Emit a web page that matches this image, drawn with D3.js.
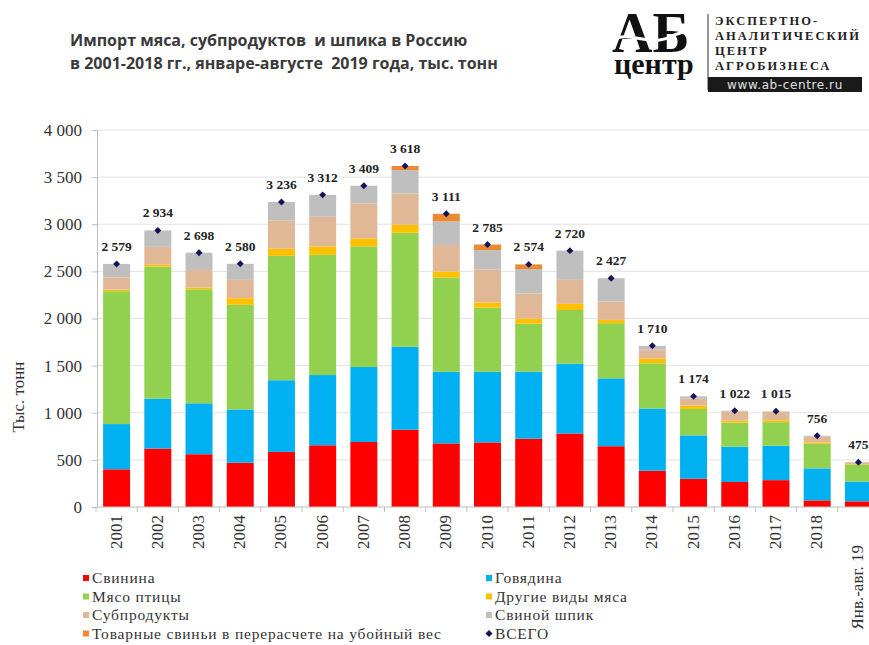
<!DOCTYPE html>
<html>
<head>
<meta charset="utf-8">
<script src="https://cdn.jsdelivr.net/npm/d3@7"></script>
<style>
  body { margin: 0; background: #fff; }
  svg { display: block; overflow: hidden; }
  text { white-space: pre; }
</style>
</head>
<body>
<div id="chart"></div>
<script>
// Импорт мяса в Россию, тыс. тонн

var width = 869;
var height = 645;

var categories = ["2001", "2002", "2003", "2004", "2005", "2006", "2007", "2008", "2009", "2010",
                  "2011", "2012", "2013", "2014", "2015", "2016", "2017", "2018", "Янв.-авг. 19"];

var pork      = [400, 620, 560, 470, 585, 655, 690, 820, 675, 685, 725, 780, 645, 385, 300, 265, 285, 70, 60];
var beef      = [480, 530, 540, 565, 760, 745, 795, 880, 760, 750, 710, 740, 720, 660, 460, 375, 365, 340, 210];
var poultry   = [1410, 1400, 1210, 1110, 1320, 1275, 1280, 1210, 1000, 680, 510, 570, 585, 480, 280, 255, 250, 260, 180];
var otherMeat = [15, 20, 20, 70, 75, 90, 85, 85, 65, 55, 55, 65, 35, 50, 35, 20, 20, 15, 5];
var offal     = [130, 190, 185, 195, 300, 315, 370, 330, 280, 350, 265, 255, 195, 95, 75, 100, 90, 60, 20];
var porkFat   = [144, 174, 183, 170, 196, 232, 189, 248, 250, 205, 260, 310, 247, 40, 24, 7, 5, 11, 0];
var livePigs  = [0, 0, 0, 0, 0, 0, 0, 45, 81, 60, 49, 0, 0, 0, 0, 0, 0, 0, 0];
var total     = [2579, 2934, 2698, 2580, 3236, 3312, 3409, 3618, 3111, 2785, 2574, 2720, 2427, 1710, 1174, 1022, 1015, 756, 475];

var yTicks = [0, 500, 1000, 1500, 2000, 2500, 3000, 3500, 4000];

var seriesKeys = ["pork", "beef", "poultry", "otherMeat", "offal", "porkFat", "livePigs"];
var seriesNames = ["Свинина", "Говядина", "Мясо птицы", "Другие виды мяса", "Субпродукты",
                   "Свиной шпик", "Товарные свиньи в перерасчете на убойный вес"];
var seriesColors = ["#ff0000", "#00b0f0", "#92d050", "#ffc000", "#e0b896", "#bfbfbf", "#ec8a34"];

// build table for d3.stack
var table = categories.map(function(c, i) {
    return { cat: c, pork: pork[i], beef: beef[i], poultry: poultry[i], otherMeat: otherMeat[i],
             offal: offal[i], porkFat: porkFat[i], livePigs: livePigs[i], total: total[i] };
});

var ru = d3.formatLocale({ decimal: ",", thousands: " ", grouping: [3], currency: ["", ""] });
var fmt = ru.format(",d");

var svg = d3.select("#chart").append("svg")
            .attr("width", width)
            .attr("height", height);

// title
var title = svg.append("text")
    .attr("font-family", "'Open Sans', sans-serif")
    .attr("font-weight", "bold")
    .attr("font-size", 16)
    .attr("fill", "#3a3a3a");
title.append("tspan").attr("x", 70).attr("y", 46).text("Импорт мяса, субпродуктов  и шпика в Россию");
title.append("tspan").attr("x", 70).attr("y", 69).text("в 2001-2018 гг., январе-августе  2019 года, тыс. тонн");

// logo
var logo = svg.append("g");
logo.append("text").attr("x", 612).attr("y", 52)
    .attr("font-family", "'Liberation Serif', serif").attr("font-weight", "bold")
    .attr("font-size", 56).attr("fill", "#111").text("АБ");
logo.append("path")
    .attr("d", "M612,40 C630,30 650,48 672,36 C685,29 695,33 702,30")
    .attr("fill", "none").attr("stroke", "#fff").attr("stroke-width", 3);
logo.append("text").attr("x", 614).attr("y", 74)
    .attr("font-family", "'Liberation Serif', serif").attr("font-weight", "bold")
    .attr("font-size", 30).attr("fill", "#111").text("центр");
logo.append("line").attr("x1", 708).attr("x2", 708).attr("y1", 14).attr("y2", 90)
    .attr("stroke", "#333").attr("stroke-width", 1);
["ЭКСПЕРТНО-", "АНАЛИТИЧЕСКИЙ", "ЦЕНТР", "АГРОБИЗНЕСА"].forEach(function(t, i) {
    logo.append("text").attr("x", 715).attr("y", 25 + i * 15)
        .attr("font-family", "'Liberation Serif', serif").attr("font-weight", "bold")
        .attr("font-size", 12.5).attr("letter-spacing", 2).attr("fill", "#222").text(t);
});
logo.append("rect").attr("x", 708).attr("y", 77).attr("width", 154).attr("height", 15).attr("fill", "#1a1a1a");
logo.append("text").attr("x", 785).attr("y", 89).attr("text-anchor", "middle")
    .attr("font-family", "'DejaVu Sans', sans-serif").attr("font-size", 12)
    .attr("letter-spacing", 0.6)
    .attr("fill", "#e0e0e0").text("www.ab-centre.ru");

// scales
var x = d3.scaleBand()
          .domain(categories)
          .range([96, 879])
          .paddingInner(0.345)
          .paddingOuter(0.1725);

var y = d3.scaleLinear()
          .domain([0, 4000])
          .range([507, 130]);

// gridlines
svg.append("g")
   .selectAll("line")
   .data(yTicks.slice(1))
   .enter()
   .append("line")
   .attr("x1", 97).attr("x2", width)
   .attr("y1", function(d) { return y(d); })
   .attr("y2", function(d) { return y(d); })
   .attr("stroke", "#e3e3e3").attr("stroke-width", 1);

// y axis
var yAxis = svg.append("g")
    .attr("transform", "translate(97,0)")
    .call(d3.axisLeft(y).tickValues(yTicks).tickFormat(fmt).tickSize(5).tickPadding(10));
yAxis.select(".domain").attr("stroke", "#bdbdbd");
yAxis.selectAll(".tick line").attr("stroke", "#bdbdbd");
yAxis.selectAll("text").attr("font-family", "'Liberation Serif', serif").attr("font-size", 17).attr("fill", "#333");

svg.append("text")
   .attr("transform", "translate(24,397) rotate(-90)")
   .attr("text-anchor", "middle")
   .attr("font-family", "'Liberation Serif', serif")
   .attr("font-size", 17).attr("fill", "#333")
   .text("Тыс. тонн");

// stacked bars
var stack = d3.stack().keys(seriesKeys);
var layers = stack(table);

svg.append("g")
   .selectAll("g")
   .data(layers)
   .enter()
   .append("g")
   .attr("fill", function(d, i) { return seriesColors[i]; })
   .selectAll("rect")
   .data(function(d) { return d; })
   .enter()
   .append("rect")
   .attr("x", function(d) { return x(d.data.cat); })
   .attr("width", x.bandwidth())
   .attr("y", function(d) { return y(d[1]); })
   .attr("height", function(d) { return y(d[0]) - y(d[1]); });

// x axis with ticks between categories
var xAxisG = svg.append("g");
xAxisG.append("line").attr("x1", 97).attr("x2", width).attr("y1", 507).attr("y2", 507)
      .attr("stroke", "#bdbdbd");
xAxisG.selectAll(".sep")
      .data(categories)
      .enter()
      .append("line")
      .attr("class", "sep")
      .attr("x1", function(d) { return x(d) - x.step() * x.paddingInner() / 2; })
      .attr("x2", function(d) { return x(d) - x.step() * x.paddingInner() / 2; })
      .attr("y1", 507).attr("y2", 512)
      .attr("stroke", "#bdbdbd");
xAxisG.selectAll(".xl")
      .data(categories)
      .enter()
      .append("text")
      .attr("class", "xl")
      .attr("transform", function(d, i) {
          var off = (i === categories.length - 1) ? 545 : 515;
          return "translate(" + (x(d) + x.bandwidth() / 2 + 5) + "," + off + ") rotate(-90)";
      })
      .attr("text-anchor", "end")
      .attr("font-family", "'Liberation Serif', serif")
      .attr("font-size", 17).attr("fill", "#333")
      .text(function(d) { return d; });

// total markers + labels
svg.append("g")
   .selectAll("path")
   .data(table)
   .enter()
   .append("path")
   .attr("d", d3.symbol().type(d3.symbolSquare).size(24))
   .attr("transform", function(d) { return "translate(" + (x(d.cat) + x.bandwidth() / 2) + "," + y(d.total) + ") rotate(45)"; })
   .attr("fill", "#14145a");

svg.append("g")
   .selectAll("text")
   .data(table)
   .enter()
   .append("text")
   .attr("x", function(d) { return x(d.cat) + x.bandwidth() / 2; })
   .attr("y", function(d) { return y(d.total) - 13; })
   .attr("text-anchor", "middle")
   .attr("font-family", "'Liberation Serif', serif")
   .attr("font-weight", "bold")
   .attr("font-size", 13.5).attr("fill", "#222")
   .text(function(d) { return fmt(d.total); });

// legend
var legendItems = [0, 1, 2, 3, 4, 5, 6].map(function(i) {
    return { name: seriesNames[i], color: seriesColors[i], diamond: false };
});
legendItems.push({ name: "ВСЕГО", color: "#14145a", diamond: true });

var legend = svg.append("g")
    .selectAll("g")
    .data(legendItems)
    .enter()
    .append("g")
    .attr("transform", function(d, i) {
        var col = i % 2, row = Math.floor(i / 2);
        return "translate(" + (col === 0 ? 86 : 489) + "," + (578 + row * 18.5) + ")";
    });
legend.append("path")
    .attr("d", function(d) {
        return d.diamond ? "M0,-3.5L3.5,0L0,3.5L-3.5,0Z" : "M-3,-3h6v6h-6z";
    })
    .attr("fill", function(d) { return d.color; });
legend.append("text")
    .attr("x", 6).attr("dy", "0.35em")
    .attr("font-family", "'Liberation Serif', serif")
    .attr("font-size", 15.5).attr("letter-spacing", 0.8).attr("fill", "#333")
    .text(function(d) { return d.name; });
</script>
</body>
</html>
